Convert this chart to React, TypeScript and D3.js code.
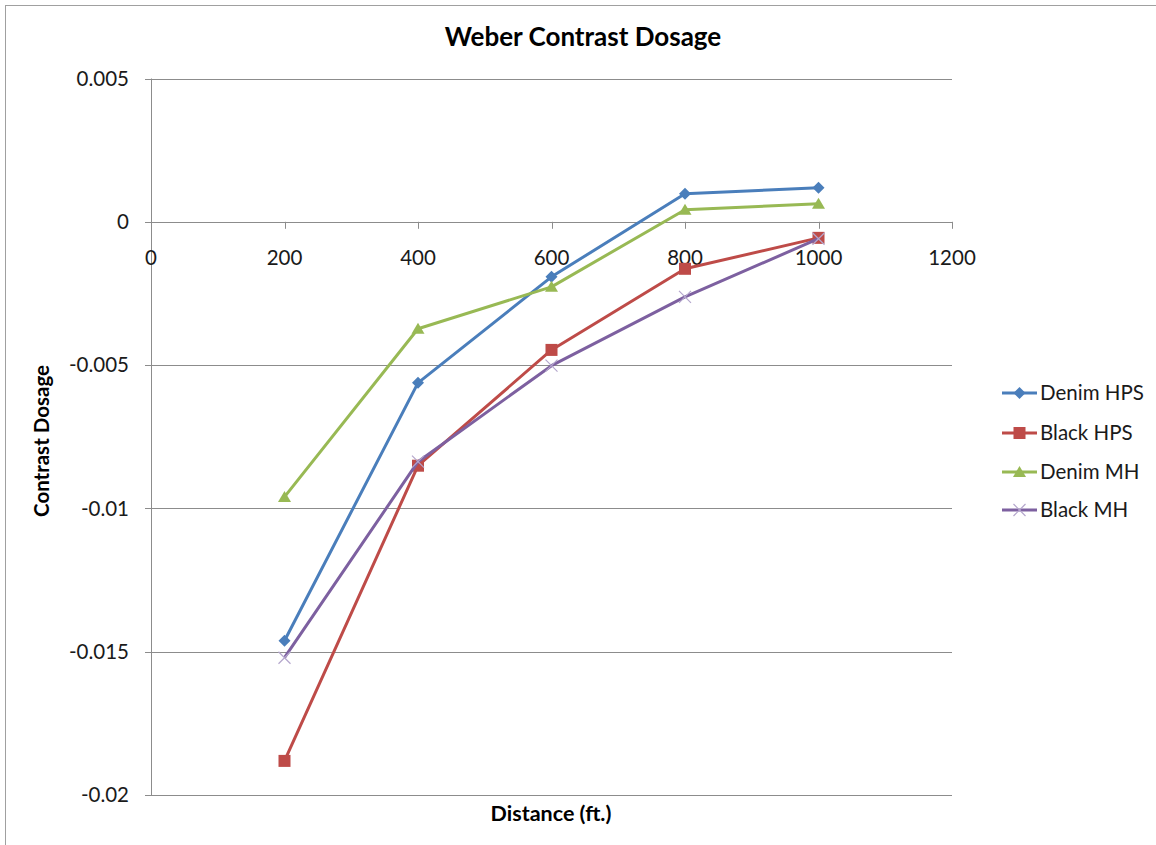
import React, { useEffect, useRef } from "react";
import * as d3 from "d3";

const distances = [200, 400, 600, 800, 1000];
const denimHPS = [-0.01462, -0.00562, -0.00192, 0.00098, 0.00119];
const blackHPS = [-0.01881, -0.00851, -0.00447, -0.00164, -0.00056];
const denimMH = [-0.0096, -0.00373, -0.00227, 0.00042, 0.00063];
const blackMH = [-0.01521, -0.00837, -0.00502, -0.00262, -0.00059];
const xTicks = [0, 200, 400, 600, 800, 1000, 1200];
const yTicks = [0.005, 0, -0.005, -0.01, -0.015, -0.02];
const yTickLabels = ["0.005", "0", "-0.005", "-0.01", "-0.015", "-0.02"];

const seriesList = [
  { name: "Denim HPS", values: denimHPS, color: "#4a7ebb", marker: "diamond" },
  { name: "Black HPS", values: blackHPS, color: "#be4b48", marker: "square" },
  { name: "Denim MH", values: denimMH, color: "#98b954", marker: "triangle" },
  { name: "Black MH", values: blackMH, color: "#7d60a0", marker: "x" },
];

const FONT = "Lato, 'Open Sans', sans-serif";

const App = () => {
  const svgRef = useRef<SVGSVGElement>(null);

  useEffect(() => {
    const width = 1156;
    const height = 845;
    const svg = d3.select(svgRef.current);
    svg.selectAll("*").remove();

    const x = d3.scaleLinear().domain([0, 1200]).range([151, 952]);
    const y = d3.scaleLinear().domain([-0.02, 0.005]).range([795, 78.5]);

    svg.append("rect").attr("width", width).attr("height", height).attr("fill", "white");
    svg
      .append("rect")
      .attr("x", 5.5)
      .attr("y", 5.5)
      .attr("width", width + 10)
      .attr("height", height + 10)
      .attr("fill", "none")
      .attr("stroke", "#a0a0a0")
      .attr("stroke-width", 1);

    // gridlines + y ticks
    yTicks.forEach((t, i) => {
      svg
        .append("line")
        .attr("x1", 145)
        .attr("x2", 952)
        .attr("y1", Math.round(y(t)) + 0.5)
        .attr("y2", Math.round(y(t)) + 0.5)
        .attr("stroke", "#8c8c8c")
        .attr("stroke-width", 1);
      svg
        .append("text")
        .attr("x", 129)
        .attr("y", y(t))
        .attr("dy", "0.35em")
        .attr("text-anchor", "end")
        .attr("font-family", FONT)
        .attr("font-size", 20.5)
        .attr("fill", "#1a1a1a")
        .text(yTickLabels[i]);
    });

    // y axis
    svg
      .append("line")
      .attr("x1", 151.5)
      .attr("x2", 151.5)
      .attr("y1", y(0.005))
      .attr("y2", y(-0.02))
      .attr("stroke", "#8c8c8c");

    // x axis ticks and labels (axis sits at y=0)
    xTicks.forEach((t) => {
      svg
        .append("line")
        .attr("x1", Math.round(x(t)) + 0.5)
        .attr("x2", Math.round(x(t)) + 0.5)
        .attr("y1", y(0))
        .attr("y2", y(0) + 7)
        .attr("stroke", "#8c8c8c");
      svg
        .append("text")
        .attr("x", x(t))
        .attr("y", y(0) + 43)
        .attr("text-anchor", "middle")
        .attr("font-family", FONT)
        .attr("font-size", 20.5)
        .attr("fill", "#1a1a1a")
        .text(t);
    });

    const line = d3
      .line<number>()
      .x((d, i) => x(distances[i]))
      .y((d) => y(d));

    const drawMarker = (g, kind, color, cx, cy) => {
      if (kind === "diamond") {
        g.append("path")
          .attr("d", `M${cx},${cy - 6}L${cx + 6},${cy}L${cx},${cy + 6}L${cx - 6},${cy}Z`)
          .attr("fill", color);
      } else if (kind === "square") {
        g.append("rect")
          .attr("x", cx - 6)
          .attr("y", cy - 6)
          .attr("width", 12)
          .attr("height", 12)
          .attr("fill", color);
      } else if (kind === "triangle") {
        g.append("path")
          .attr("d", `M${cx},${cy - 6}L${cx + 6.5},${cy + 5}L${cx - 6.5},${cy + 5}Z`)
          .attr("fill", color);
      } else {
        g.append("path")
          .attr("d", `M${cx - 6},${cy - 6}L${cx + 6},${cy + 6}M${cx + 6},${cy - 6}L${cx - 6},${cy + 6}`)
          .attr("stroke", "#b4a6cc")
          .attr("stroke-width", 1.2)
          .attr("fill", "none");
      }
    };

    seriesList.forEach((s) => {
      const g = svg.append("g");
      g.append("path")
        .datum(s.values)
        .attr("d", line)
        .attr("fill", "none")
        .attr("stroke", s.color)
        .attr("stroke-width", 3)
        .attr("stroke-linejoin", "round");
      s.values.forEach((v, i) => drawMarker(g, s.marker, s.color, x(distances[i]), y(v)));
    });

    // legend
    const legendY = [393, 433, 472, 510];
    seriesList.forEach((s, i) => {
      const g = svg.append("g");
      g.append("line")
        .attr("x1", 1002)
        .attr("x2", 1037)
        .attr("y1", legendY[i])
        .attr("y2", legendY[i])
        .attr("stroke", s.color)
        .attr("stroke-width", 3);
      drawMarker(g, s.marker, s.color, 1019.5, legendY[i]);
      g.append("text")
        .attr("x", 1040)
        .attr("y", legendY[i])
        .attr("dy", "0.35em")
        .attr("font-family", FONT)
        .attr("font-size", 20.5)
        .attr("fill", "#1a1a1a")
        .text(s.name);
    });

    // titles
    svg
      .append("text")
      .attr("x", 583)
      .attr("y", 46)
      .attr("text-anchor", "middle")
      .attr("font-family", FONT)
      .attr("font-weight", "bold")
      .attr("font-size", 26)
      .attr("fill", "#000")
      .text("Weber Contrast Dosage");
    svg
      .append("text")
      .attr("x", 551)
      .attr("y", 821)
      .attr("text-anchor", "middle")
      .attr("font-family", FONT)
      .attr("font-weight", "bold")
      .attr("font-size", 21.5)
      .attr("fill", "#000")
      .text("Distance (ft.)");
    svg
      .append("text")
      .attr("transform", "translate(49,441) rotate(-90)")
      .attr("text-anchor", "middle")
      .attr("font-family", FONT)
      .attr("font-weight", "bold")
      .attr("font-size", 20.5)
      .attr("fill", "#000")
      .text("Contrast Dosage");
  }, []);

  return (
    <svg
      ref={svgRef}
      width={1156}
      height={845}
      style={{ position: "absolute", left: 0, top: 0, display: "block" }}
    />
  );
};

export default App;
